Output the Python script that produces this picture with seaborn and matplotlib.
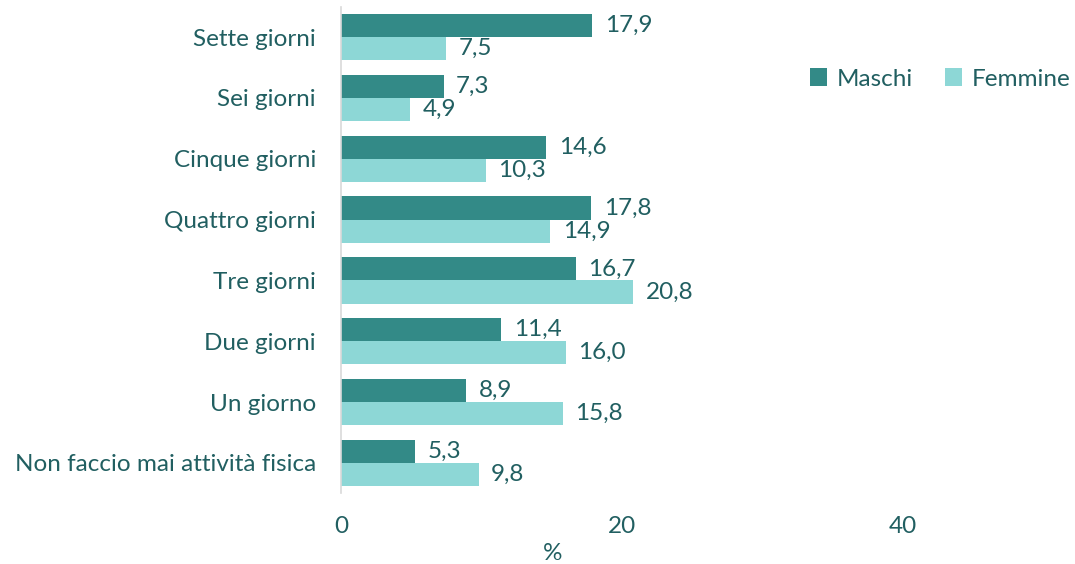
import pandas as pd
import matplotlib
matplotlib.use("Agg")
import matplotlib.pyplot as plt
import seaborn as sns

# -----------------------------
# DATA
# -----------------------------

CATEGORIES = [
    "Sette giorni",
    "Sei giorni",
    "Cinque giorni",
    "Quattro giorni",
    "Tre giorni",
    "Due giorni",
    "Un giorno",
    "Non faccio mai attività fisica",
]

MASCHI = [17.9, 7.3, 14.6, 17.8, 16.7, 11.4, 8.9, 5.3]
FEMMINE = [7.5, 4.9, 10.3, 14.9, 20.8, 16.0, 15.8, 9.8]

SERIES = ["Maschi", "Femmine"]
X_TICKS = [0, 20, 40]

COLORS = {"Maschi": "#338A87", "Femmine": "#8DD7D6"}
TEXT_COLOR = "#215F61"
FS = 17.5

# -----------------------------
# PLOT
# -----------------------------

df = pd.DataFrame({
    "categoria": CATEGORIES * 2,
    "valore": MASCHI + FEMMINE,
    "sesso": ["Maschi"] * len(CATEGORIES) + ["Femmine"] * len(CATEGORIES),
})

sns.set_style("white")
plt.rcParams["font.family"] = ["Lato", "DejaVu Sans"]

fig = plt.figure(figsize=(10.75, 5.64), dpi=100)
ax = fig.add_axes([0.3172, 0.1252, 0.6535, 0.8631])

sns.barplot(
    data=df, y="categoria", x="valore", hue="sesso",
    hue_order=SERIES, order=CATEGORIES, palette=COLORS,
    orient="h", width=0.76, saturation=1, linewidth=0, ax=ax, legend=True,
)

for container in ax.containers:
    ax.bar_label(
        container,
        labels=[f"{v:.1f}".replace(".", ",") for v in container.datavalues],
        padding=9, fontsize=FS, color=TEXT_COLOR,
    )

ax.set_xlim(0, 50)
ax.set_ylim(len(CATEGORIES) - 0.5, -0.5)
ax.set_xticks(X_TICKS)
ax.set_xlabel("")
ax.set_ylabel("")
ax.tick_params(axis="x", length=0, pad=16, labelsize=FS, labelcolor=TEXT_COLOR)
ax.tick_params(axis="y", length=0, pad=18, labelsize=FS, labelcolor=TEXT_COLOR)

for side in ["top", "right", "bottom"]:
    ax.spines[side].set_visible(False)
ax.spines["left"].set_color("#D9D9D9")
ax.spines["left"].set_linewidth(1.2)

fig.text(553 / 1075, 1 - 553 / 564, "%", ha="center", va="center",
         fontsize=FS, color=TEXT_COLOR)

ax.legend(
    loc="center left", bbox_to_anchor=(810 / 1075, 1 - 79 / 564),
    bbox_transform=fig.transFigure, ncol=2, frameon=False,
    fontsize=FS, labelcolor=TEXT_COLOR, handlelength=0.7, handleheight=0.7,
    handletextpad=0.4, columnspacing=1.3, borderpad=0, borderaxespad=0,
)

fig.savefig("out.png", dpi=100)
